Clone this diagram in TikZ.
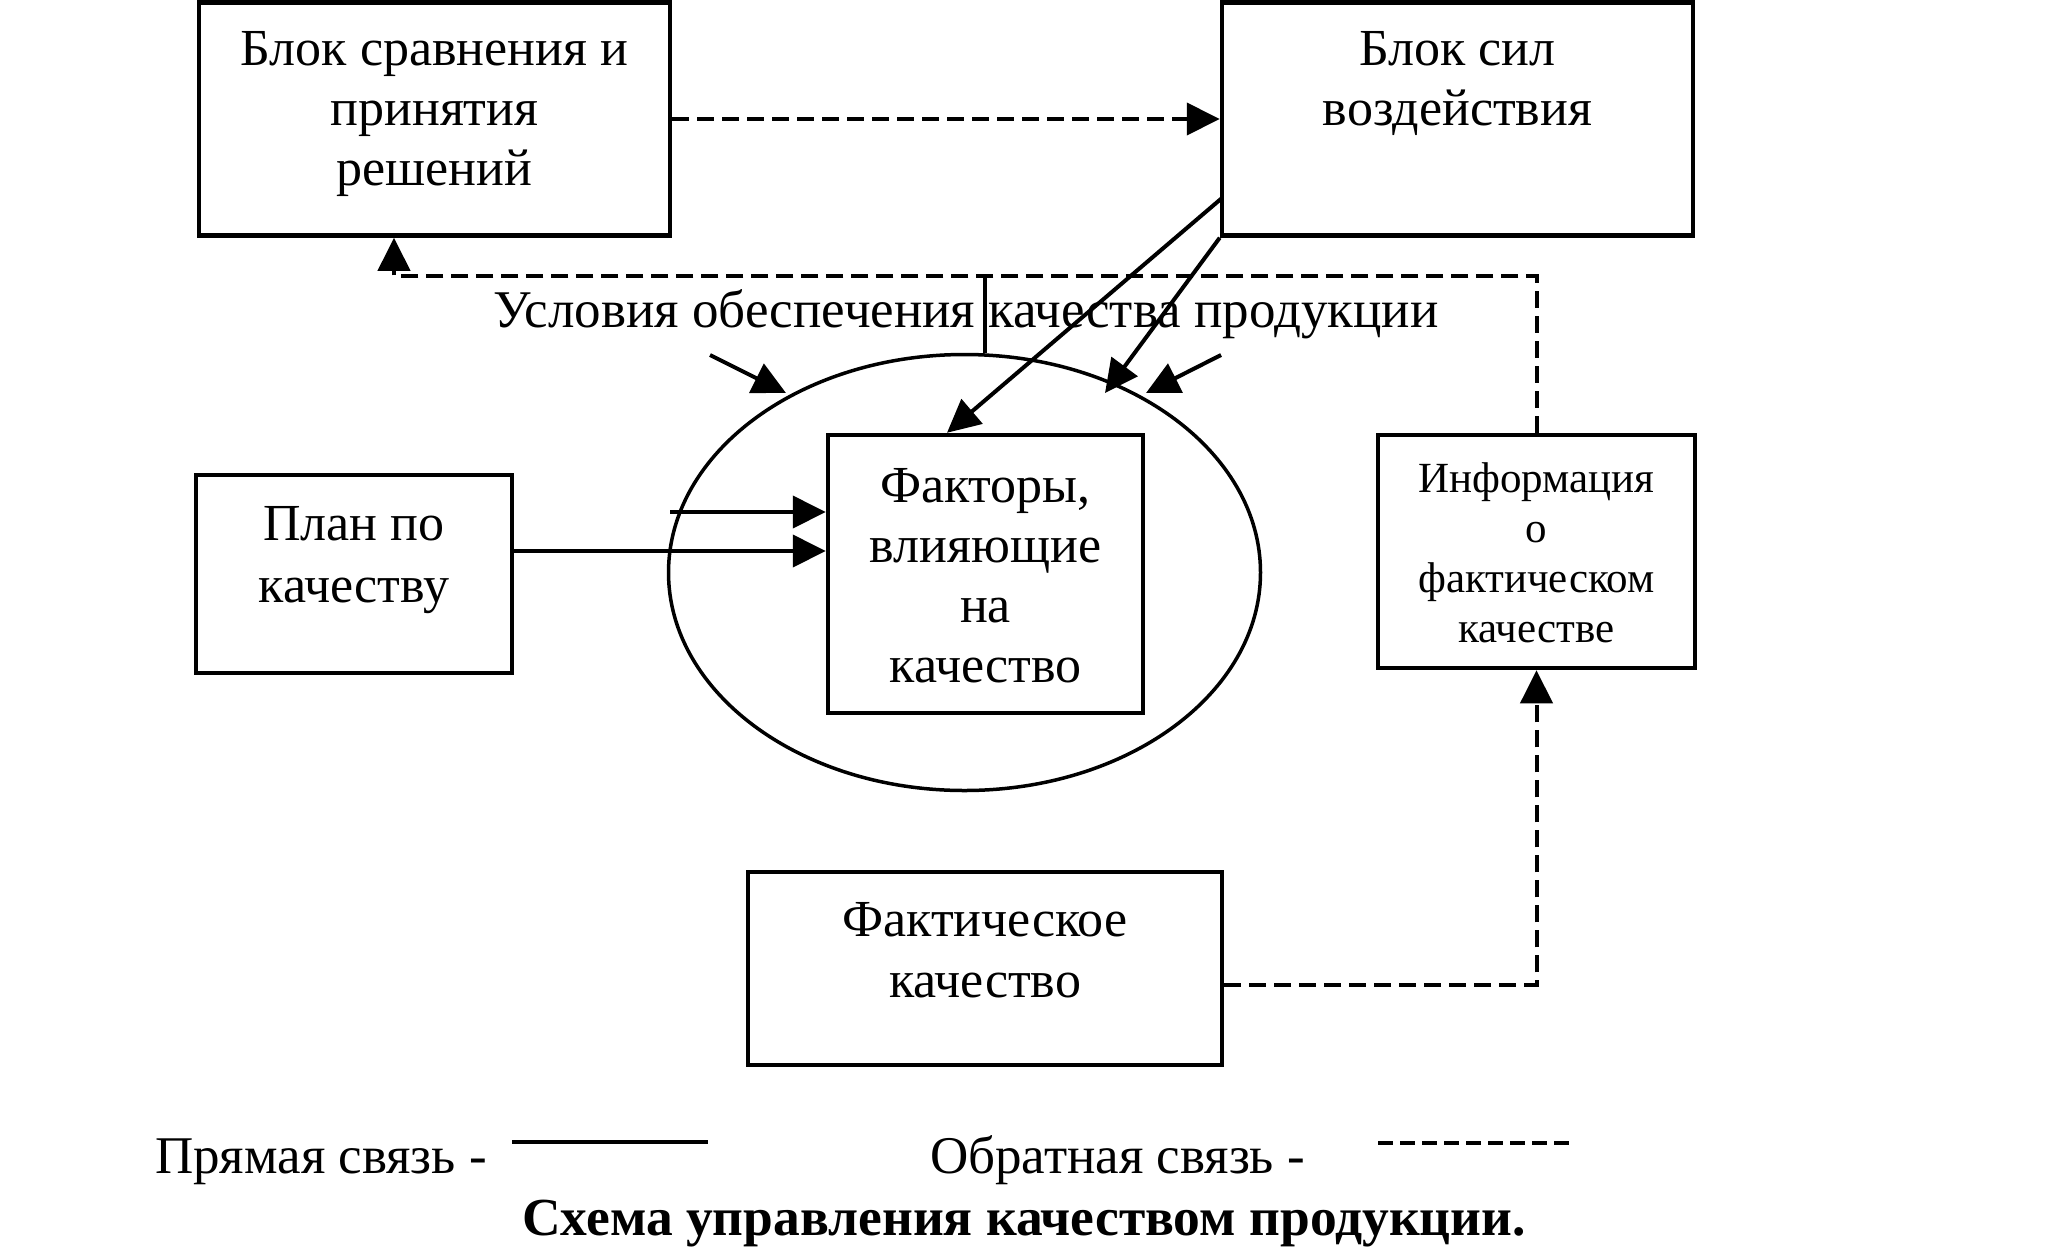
\documentclass[tikz,border=0pt]{standalone}
\usepackage{fontspec}
\setmainfont{Liberation Serif}
\usetikzlibrary{arrows.meta,shapes.geometric}
\newcommand{\flA}{\rule{0pt}{40pt}}
\newcommand{\flB}{\rule{0pt}{33pt}}
\begin{document}
\begin{tikzpicture}[x=1pt,y=-1pt,
  box/.style={draw, line width=4.5pt, inner sep=0pt},
  txt/.style={font=\fontsize{52}{60}\selectfont, align=center, anchor=north, inner sep=0pt},
  stxt/.style={font=\fontsize{43}{50}\selectfont, align=center, anchor=north, inner sep=0pt},
  ltxt/.style={font=\fontsize{53}{60}\selectfont, inner sep=0pt},
  conn/.style={line width=4pt},
  fb/.style={line width=4pt, dash pattern=on 17pt off 8pt},
  tip/.style={-{Triangle[length=33pt,width=32pt]}},
]
\useasboundingbox (0,0) rectangle (2048,1248);

% ellipse
\node[draw, ellipse, line width=3.5pt, minimum width=592pt, minimum height=436pt, inner sep=0pt] (ell) at (964.5,572.5) {};

% boxes
\node[box, minimum width=471pt, minimum height=233pt] (b1) at (434.5,119) {};
\node[box, minimum width=471pt, minimum height=233pt] (b2) at (1457.5,119) {};
\node[box, minimum width=315pt, minimum height=278pt] (fac) at (985.5,574) {};
\node[box, minimum width=316pt, minimum height=198pt] (plan) at (354,574) {};
\node[box, minimum width=317pt, minimum height=233pt] (info) at (1536.5,551.5) {};
\node[box, minimum width=474pt, minimum height=193pt] (fact) at (985,968.5) {};

% texts
\node[txt] (t1) at (434.5,25) {\flA Блок сравнения и\\принятия\\решений};
\node[txt] (t2) at (1457.5,25) {\flA Блок сил\\воздействия};
\node[txt] (tfac) at (985.5,462) {\flA Факторы,\\влияющие\\на\\качество};
\node[txt, font=\fontsize{52}{62}\selectfont] (tplan) at (354,500) {\flA План по\\качеству};
\node[stxt] (tinfo) at (1536.5,459) {\flB Информация\\о\\фактическом\\качестве};
\node[txt, font=\fontsize{52}{61}\selectfont] (tfact) at (985,896) {\flA Фактическое\\качество};
\node[ltxt, anchor=base] (tcond) at (966,327) {Условия обеспечения качества продукции};

% legend
\node[ltxt, anchor=base west] (lg1) at (155,1173) {Прямая связь -};
\node[ltxt, anchor=base west] (lg2) at (930,1173) {Обратная связь -};
\coordinate (ls1) at (512,1142);
\coordinate (ls2) at (708,1142);
\coordinate (ld1) at (1378,1143);
\coordinate (ld2) at (1570,1143);
\draw[conn] (ls1) -- (ls2);
\draw[line width=4pt, dash pattern=on 15pt off 7pt] (ld1) -- (ld2);
\node[ltxt, anchor=base, font=\fontsize{53.5}{60}\selectfont\bfseries] (cap) at (1024,1235) {Схема управления качеством продукции.};

% connectors
\draw[fb, tip] (b1.east) -- (b2.west);
\coordinate (fbl) at (394,276);
\draw[fb, tip] (info.north) |- (fbl) -- (fbl |- b1.south);
\coordinate (vtop) at (985,276);
\draw[conn] (vtop) -- (vtop |- ell.north);
\coordinate (b2a) at (1222,198);
\draw[conn, tip] (b2a) -- (fac.north -| 947,0);
\coordinate (a5e) at (1105,393);
\draw[conn, tip] (b2.south west) -- (a5e);
\coordinate (a6s) at (710,355);
\coordinate (a6e) at (786,393);
\draw[conn, tip] (a6s) -- (a6e);
\coordinate (a7s) at (1221,355);
\coordinate (a7e) at (1146,393);
\draw[conn, tip] (a7s) -- (a7e);
\coordinate (a8s) at (670,512);
\draw[conn, tip] (a8s) -- (fac.west |- a8s);
\draw[conn, tip] (plan.east |- 0,551) -- (fac.west |- 0,551);
\draw[fb, tip] (fact.east |- 0,985) -| (info.south);
\end{tikzpicture}
\end{document}
